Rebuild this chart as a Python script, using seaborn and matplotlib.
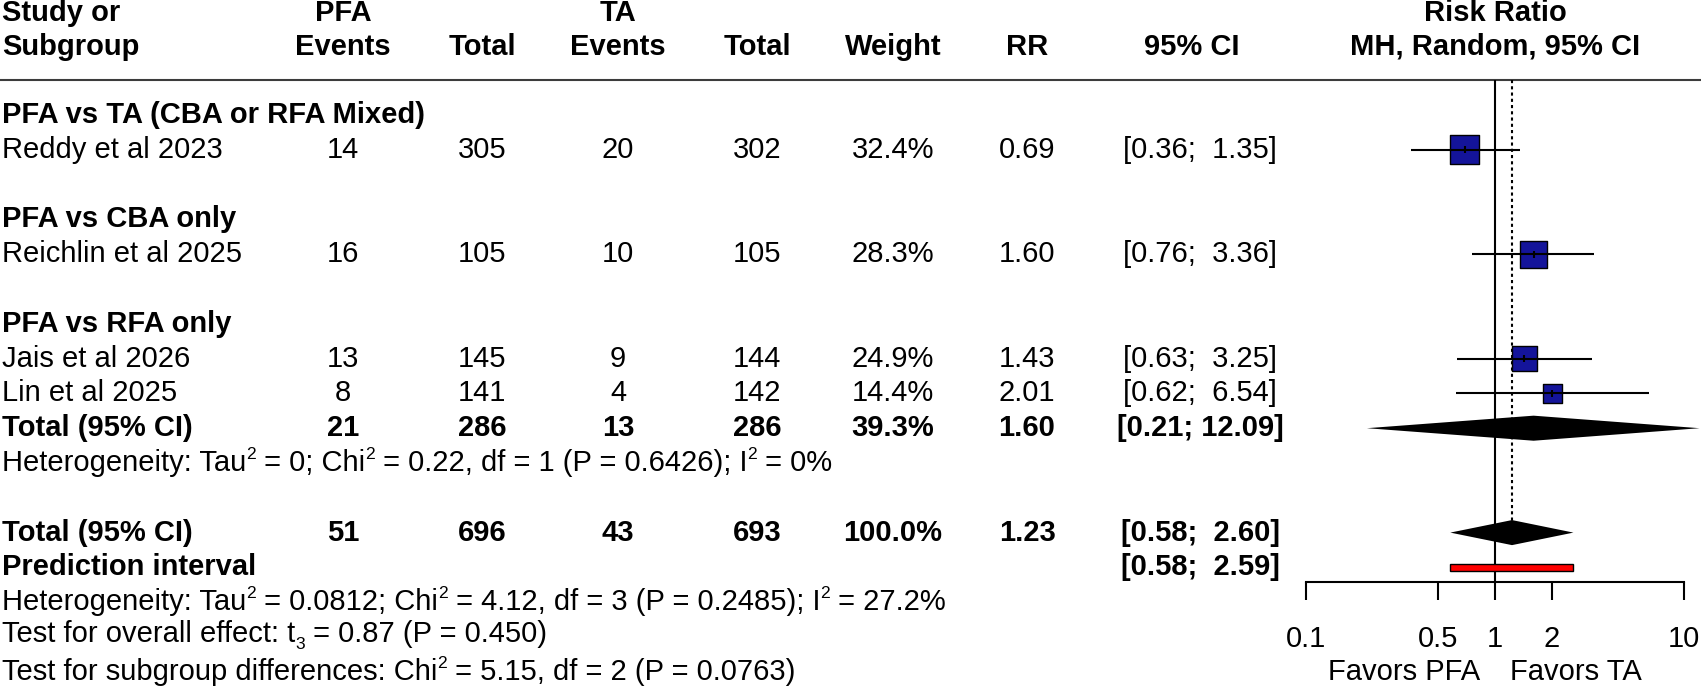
import numpy as np
import matplotlib
matplotlib.use("Agg")
import matplotlib.pyplot as plt
from matplotlib.ticker import NullLocator
from matplotlib.transforms import IdentityTransform
import seaborn as sns

# ---------------- data ----------------
study_labels = ["Reddy et al 2023", "Reichlin et al 2025", "Jais et al 2026", "Lin et al 2025"]
study_rows = [2, 5, 8, 9]
pfa_events = [14, 16, 13, 8]
pfa_total = [305, 105, 145, 141]
ta_events = [20, 10, 9, 4]
ta_total = [302, 105, 144, 142]
weights = [32.4, 28.3, 24.9, 14.4]
rr = [0.69, 1.60, 1.43, 2.01]
ci_low = [0.36, 0.76, 0.63, 0.62]
ci_high = [1.35, 3.36, 3.25, 6.54]

subgroup_labels = ["PFA vs TA (CBA or RFA Mixed)", "PFA vs CBA only", "PFA vs RFA only"]
subgroup_rows = [1, 4, 7]

summary_labels = ["Total (95% CI)", "Total (95% CI)"]
summary_rows = [10, 13]
summary_pfa_events = [21, 51]
summary_pfa_total = [286, 696]
summary_ta_events = [13, 43]
summary_ta_total = [286, 693]
summary_weights = [39.3, 100.0]
summary_rr = [1.60, 1.23]
summary_low = [0.21, 0.58]
summary_high = [12.09, 2.60]

pi_label = "Prediction interval"
pi_row = 14
pi_low = 0.58
pi_high = 2.59

# (text, kind) pieces: n = normal, sup = superscript, sub = subscript
het_sub_pieces = [("Heterogeneity: Tau", "n"), ("2", "sup"), (" = 0; Chi", "n"), ("2", "sup"),
                  (" = 0.22, df = 1 (P = 0.6426); I", "n"), ("2", "sup"), (" = 0%", "n")]
het_all_pieces = [("Heterogeneity: Tau", "n"), ("2", "sup"), (" = 0.0812; Chi", "n"), ("2", "sup"),
                  (" = 4.12, df = 3 (P = 0.2485); I", "n"), ("2", "sup"), (" = 27.2%", "n")]
overall_test_pieces = [("Test for overall effect: t", "n"), ("3", "sub"), (" = 0.87 (P = 0.450)", "n")]
subgroup_test_pieces = [("Test for subgroup differences: Chi", "n"), ("2", "sup"),
                        (" = 5.15, df = 2 (P = 0.0763)", "n")]

axis_ticks = [0.1, 0.5, 1, 2, 10]
axis_tick_labels = ["0.1", "0.5", "1", "2", "10"]
favors_left = "Favors PFA"
favors_right = "Favors TA"

# ---------------- style ----------------
sns.set_theme(style="white")
plt.rcParams["font.family"] = ["Liberation Sans", "DejaVu Sans"]

FS = 21
SFS = FS * 0.6
W, H = 1701, 688
ROW0_PX, ROW_PX = 115.0, 34.8
def px2row(p):
    return 1 + (p - ROW0_PX) / ROW_PX
Y_TOP, Y_BOT = px2row(0), px2row(H)
BASE = 8 / ROW_PX  # baseline offset

fig = plt.figure(figsize=(W / 100, H / 100), dpi=100)
renderer = fig.canvas.get_renderer()
tax = fig.add_axes([0, 0, 1, 1])
tax.set_xlim(0, W)
tax.set_ylim(Y_BOT, Y_TOP)
tax.axis("off")

X01, X10 = 1306, 1684
fax = fig.add_axes([X01 / W, 0, (X10 - X01) / W, 1])
fax.patch.set_alpha(0)
fax.set_xscale("log")
fax.set_xlim(0.1, 10)
fax.set_ylim(Y_BOT, Y_TOP)

# column x positions (px)
c_study, c_pe, c_pn, c_te, c_tn, c_w, c_rr, c_ci = 2, 343, 482, 618, 757, 893, 1027, 1200
c_ci_head, c_plot = 1192, 1495

def t(x, y, s, ha="center", bold=False):
    return tax.text(x, y, s, ha=ha, va="baseline", fontsize=FS,
                    fontweight="bold" if bold else "normal", color="black")

PH = "\u2004"  # width placeholder for super/subscripts
def text_width(s):
    tmp = tax.text(0, 0, s, ha="left", va="baseline", fontsize=FS)
    w = tmp.get_window_extent(renderer).width
    tmp.remove()
    return w

def rich(x, y, pieces):
    x0, y0 = tax.transData.transform((x, y))
    prefix = ""
    for s, k in pieces:
        if k == "n":
            full = prefix + s
            w = text_width(full)
            tax.text(x0 + w, y0, s, ha="right", va="baseline", fontsize=FS,
                     color="black", transform=IdentityTransform())
            prefix = full
        else:
            w = text_width(prefix)
            dy = 12 if k == "sup" else -7
            tax.text(x0 + w, y0 + dy, s, ha="left", va="baseline", fontsize=SFS,
                     color="black", transform=IdentityTransform())
            prefix += PH * len(s)

# header
h1, h2 = px2row(21), px2row(55)
t(c_study, h1, "Study or", ha="left", bold=True)
t(c_study, h2, "Subgroup", ha="left", bold=True)
t(c_pe, h1, "PFA", bold=True); t(c_pe, h2, "Events", bold=True)
t(c_pn, h2, "Total", bold=True)
t(c_te, h1, "TA", bold=True); t(c_te, h2, "Events", bold=True)
t(c_tn, h2, "Total", bold=True)
t(c_w, h2, "Weight", bold=True)
t(c_rr, h2, "RR", bold=True)
t(c_ci_head, h2, "95% CI", bold=True)
t(c_plot, h1, "Risk Ratio", bold=True)
t(c_plot, h2, "MH, Random, 95% CI", bold=True)
tax.hlines(0, 0, W, color="#3c3c3c", lw=1.5)

def ci_str(lo, hi):
    return f"[{lo:.2f}; {hi:5.2f}]"

for lab, r in zip(subgroup_labels, subgroup_rows):
    t(c_study, r + BASE, lab, ha="left", bold=True)

for i, r in enumerate(study_rows):
    y = r + BASE
    t(c_study, y, study_labels[i], ha="left")
    t(c_pe, y, str(pfa_events[i])); t(c_pn, y, str(pfa_total[i]))
    t(c_te, y, str(ta_events[i])); t(c_tn, y, str(ta_total[i]))
    t(c_w, y, f"{weights[i]:.1f}%"); t(c_rr, y, f"{rr[i]:.2f}")
    t(c_ci, y, ci_str(ci_low[i], ci_high[i]))

for i, r in enumerate(summary_rows):
    y = r + BASE
    t(c_study, y, summary_labels[i], ha="left", bold=True)
    t(c_pe, y, str(summary_pfa_events[i]), bold=True); t(c_pn, y, str(summary_pfa_total[i]), bold=True)
    t(c_te, y, str(summary_ta_events[i]), bold=True); t(c_tn, y, str(summary_ta_total[i]), bold=True)
    t(c_w, y, f"{summary_weights[i]:.1f}%", bold=True); t(c_rr, y, f"{summary_rr[i]:.2f}", bold=True)
    t(c_ci, y, ci_str(summary_low[i], summary_high[i]), bold=True)

t(c_study, pi_row + BASE, pi_label, ha="left", bold=True)
t(c_ci, pi_row + BASE, ci_str(pi_low, pi_high), bold=True)

rich(c_study, 11 + BASE, het_sub_pieces)
rich(c_study, px2row(610), het_all_pieces)
rich(c_study, px2row(642), overall_test_pieces)
rich(c_study, px2row(680), subgroup_test_pieces)

t(1480, px2row(680), favors_left, ha="right")
t(1510, px2row(680), favors_right, ha="left")

# ---------------- forest ----------------
axis_row = px2row(582)
fax.vlines(1, 0, axis_row, color="black", lw=1.5, zorder=2)
fax.vlines(summary_rr[1], 0, summary_rows[1], color="black", lw=1.5,
           linestyles=(0, (1.5, 1.5)), zorder=2)

sns.scatterplot(x=rr, y=study_rows, size=weights, sizes=(0, 430),
                size_norm=(0, max(weights)), marker="s", color="#14149a",
                edgecolor="black", linewidth=1.0, legend=False, ax=fax, zorder=3)
fax.hlines(study_rows, ci_low, ci_high, color="black", lw=1.5, zorder=4)
fax.vlines(rr, np.array(study_rows) - 0.1, np.array(study_rows) + 0.1,
           color="black", lw=1.5, zorder=4)

dh = 0.36
for est, lo, hi, r in zip(summary_rr, summary_low, summary_high, summary_rows):
    fax.fill([lo, est, hi, est], [r, r - dh, r, r + dh], color="black",
             lw=0, clip_on=False, zorder=5)

fax.fill([pi_low, pi_high, pi_high, pi_low],
         [pi_row - 0.1, pi_row - 0.1, pi_row + 0.1, pi_row + 0.1],
         facecolor="#ff0000", edgecolor="black", lw=1.0, zorder=5)

for s in ["top", "left", "right"]:
    fax.spines[s].set_visible(False)
fax.spines["bottom"].set_position(("data", axis_row))
fax.spines["bottom"].set_linewidth(1.5)
fax.spines["bottom"].set_color("black")
fax.set_xticks(axis_ticks)
fax.set_xticklabels(axis_tick_labels)
fax.xaxis.set_minor_locator(NullLocator())
fax.tick_params(axis="x", which="major", direction="out", length=13, width=1.5,
                pad=18, labelsize=FS, colors="black", bottom=True)
fax.set_yticks([])
fax.set_xlabel("")
fax.set_ylabel("")

fig.savefig("out.png", dpi=100)
